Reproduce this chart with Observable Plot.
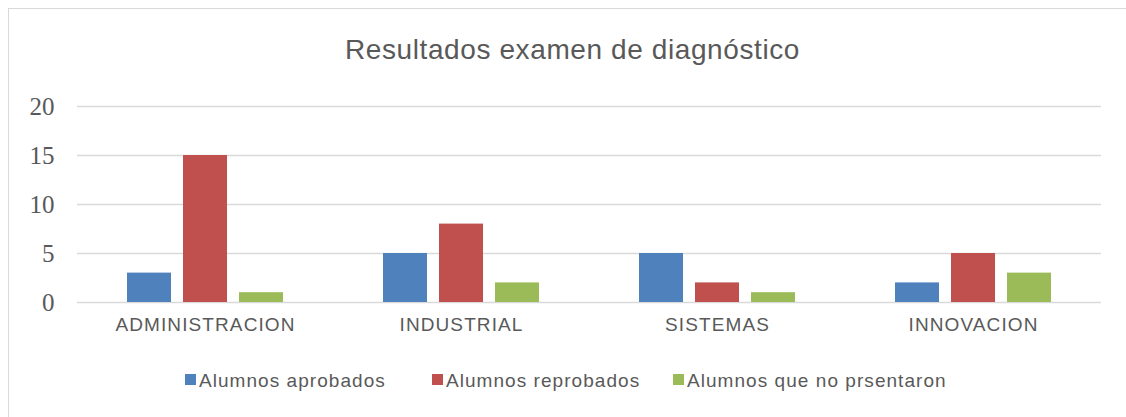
<!DOCTYPE html>
<html>
<head>
<meta charset="utf-8">
<script src="https://cdn.jsdelivr.net/npm/d3@7"></script>
<script src="https://cdn.jsdelivr.net/npm/@observablehq/plot@0.6"></script>
<style>
  html, body { margin: 0; padding: 0; background: #fff; }
  body { width: 1126px; height: 417px; position: relative; overflow: hidden; font-family: "Liberation Sans", Arial, sans-serif; color: #595959; }
  #frame { position: absolute; left: 8px; top: 8px; width: 1200px; height: 500px; border-left: 1.5px solid #d9d9d9; border-top: 1.5px solid #d9d9d9; }
  #title { position: absolute; top: 36px; left: 572.5px; transform: translateX(-50%); font-size: 28px; line-height: 28px; letter-spacing: 0.6px; white-space: nowrap; color: #595959; }
  #chart { position: absolute; left: 0; top: 0; }
  #chart svg { font: 19px "Liberation Sans", Arial, sans-serif; color: #595959; background: transparent; overflow: visible; }
  #chart g[aria-label="fx-axis tick label"] { letter-spacing: 1.1px; font-size: 19px; }
  #chart g[aria-label="y-axis tick label"] { font-family: "Liberation Serif", "Times New Roman", serif; font-size: 25px; }
  .leg-sq { position: absolute; top: 374px; width: 11px; height: 11px; }
  .leg-tx { position: absolute; top: 371px; font-size: 19px; line-height: 19px; letter-spacing: 1.05px; white-space: nowrap; color: #595959; }
</style>
</head>
<body>
<div id="frame"></div>
<div id="title">Resultados examen de diagnóstico</div>
<div id="chart"></div>
<div id="legend"></div>
<script>
const categories = ["ADMINISTRACION", "INDUSTRIAL", "SISTEMAS", "INNOVACION"];
const series = ["Alumnos aprobados", "Alumnos reprobados", "Alumnos que no prsentaron"];
const aprobados = [3, 5, 5, 2];
const reprobados = [15, 8, 2, 5];
const noPresentaron = [1, 2, 1, 3];
const yTicks = [0, 5, 10, 15, 20];
const colors = ["#4F81BD", "#C0504D", "#9BBB59"];

const values = [aprobados, reprobados, noPresentaron];
const rows = [];
categories.forEach((c, i) => {
  series.forEach((s, j) => rows.push({cat: c, series: s, value: values[j][i]}));
});

const chart = Plot.plot({
  width: 1126,
  height: 345,
  marginLeft: 76,
  marginRight: 24,
  marginTop: 106,
  marginBottom: 43,
  style: {background: "transparent"},
  fx: {domain: categories, padding: 0, label: null, axis: "bottom", tickSize: 0, tickPadding: 15},
  x: {domain: series, paddingInner: 0.208, paddingOuter: 0.862, axis: null},
  y: {domain: [0, 20], ticks: yTicks, tickSize: 0, tickPadding: 23, label: null},
  color: {domain: series, range: colors},
  marks: [
    Plot.ruleY(yTicks, {stroke: "#d9d9d9", strokeWidth: 1.3}),
    Plot.barY(rows, {fx: "cat", x: "series", y: "value", fill: "series"})
  ]
});
document.getElementById("chart").appendChild(chart);

// Legend
const legend = document.getElementById("legend");
const legendLeft = [185, 432, 673];
series.forEach((s, j) => {
  const sq = document.createElement("div");
  sq.className = "leg-sq";
  sq.style.left = legendLeft[j] + "px";
  sq.style.background = colors[j];
  legend.appendChild(sq);
  const tx = document.createElement("div");
  tx.className = "leg-tx";
  tx.style.left = (legendLeft[j] + 14) + "px";
  tx.textContent = s;
  legend.appendChild(tx);
});
</script>
</body>
</html>
